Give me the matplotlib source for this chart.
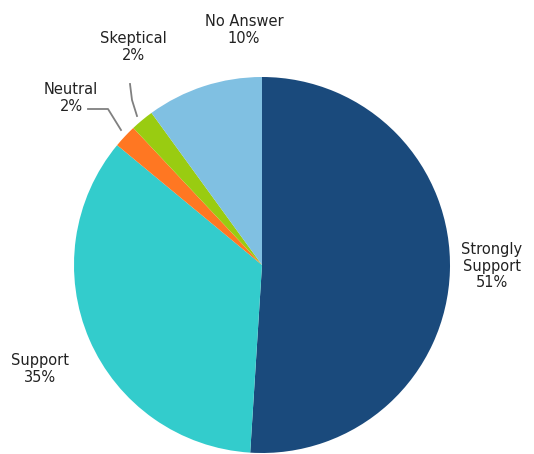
import matplotlib
matplotlib.use("Agg")
import matplotlib.pyplot as plt

categories = ["Strongly\nSupport", "Support", "Neutral", "Skeptical", "No Answer"]
values = [51, 35, 2, 2, 10]
colors = ["#1a4a7c", "#33cccc", "#ff7722", "#99cc11", "#80c0e2"]

W, H = 534, 454
fig = plt.figure(figsize=(W / 100, H / 100), dpi=100)
ax = fig.add_axes([0, 0, 1, 1])

cx, cy, r = 262, 265, 188
wedges, _ = ax.pie(values, colors=colors, startangle=-90, counterclock=True,
                   center=(cx, cy), radius=r, frame=True,
                   wedgeprops=dict(linewidth=0))
ax.set_xlim(0, W)
ax.set_ylim(H, 0)
ax.set_aspect("equal")
ax.axis("off")

tk = dict(fontsize=10.5, color="#222222", ha="center", va="center", linespacing=1.15)
pos = [(492, 266), (40, 369), (71, 98), (133, 47), (244, 30)]
for lab, v, (x, y) in zip(categories, values, pos):
    ax.text(x, y, f"{lab}\n{v}%", **tk)

# leader lines
ax.plot([88, 108, 121], [109, 109, 130], color="#808080", lw=1.3)
ax.plot([130, 132, 137], [84, 100, 116], color="#808080", lw=1.3)

fig.savefig("out.png", dpi=100)
